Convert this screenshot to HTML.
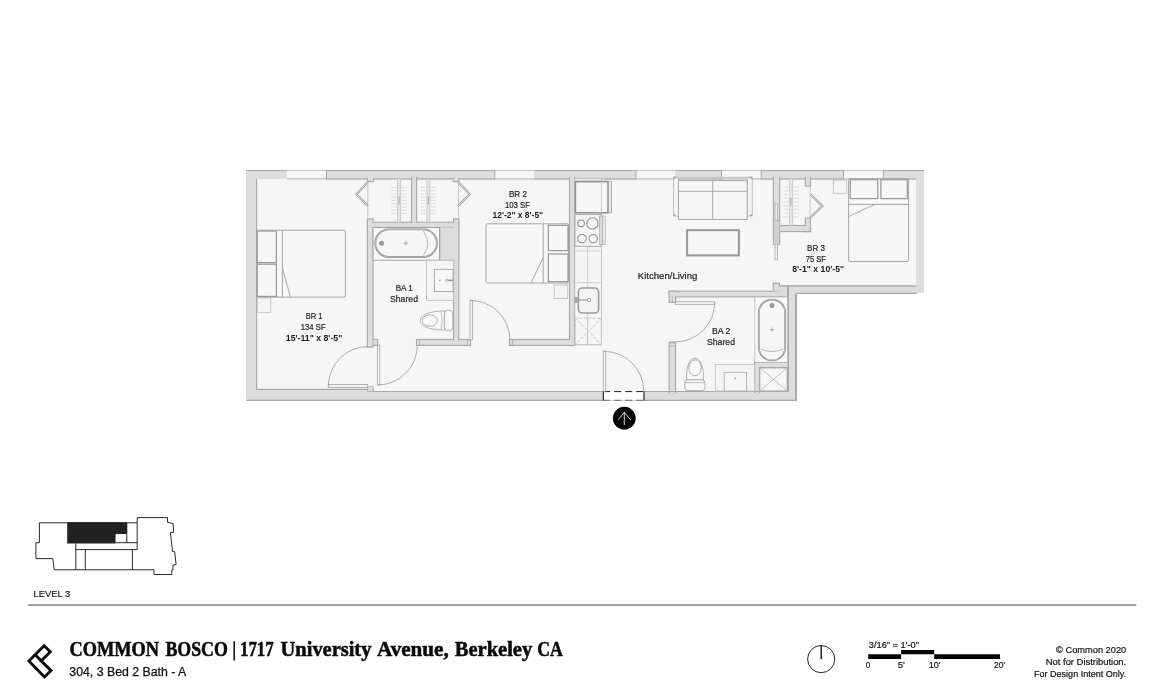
<!DOCTYPE html>
<html><head><meta charset="utf-8"><title>Floor plan</title>
<style>
html,body{margin:0;padding:0;background:#fff;}
body{width:1157px;height:695px;position:relative;overflow:hidden;font-family:"Liberation Sans",sans-serif;}
</style></head><body>
<svg width="1157" height="695" viewBox="0 0 1157 695" style="position:absolute;left:0;top:0;will-change:transform">
<path d="M246 170H924V293.3H796.7V400.5H246Z" fill="#f6f6f6"/>
<g fill="#dddddd">
<rect x="246.00" y="170.00" width="678.00" height="9.00" />
<rect x="246.00" y="170.00" width="10.50" height="230.90" />
<rect x="246.00" y="389.20" width="127.30" height="11.70" />
<rect x="250.00" y="391.40" width="546.90" height="9.50" />
<rect x="916.10" y="170.00" width="7.90" height="122.90" />
<rect x="779.00" y="285.30" width="138.00" height="8.30" />
<rect x="787.20" y="291.30" width="9.70" height="109.60" />
</g>
<g fill="none" stroke="#a9a9a9">
<path d="M246 170.5H924" stroke-width="1.1"/>
<path d="M326.4 178.9H916.3" stroke-width="1.5" stroke="#b2b2b2"/>
<path d="M256.6 178.9V389.4H373.2V391.5H603M644 391.5H788" stroke-width="1.1"/>
<path d="M246 400.4H796.9" stroke-width="1.2"/>
<path d="M796 293.4V401M788 296.8V391.5" stroke-width="1.8" stroke="#a6a6a6"/>
<path d="M779.3 286H916.4" stroke-width="1.7" stroke="#adadad"/>
<path d="M796.9 293.4H916.6" stroke-width="1.1"/>
</g>
<rect x="286.90" y="169.80" width="39.50" height="10.00" fill="#f6f6f6"/>
<path d="M286.9 170.5H326.4" stroke="#c6c6c6" stroke-width="1.1" fill="none"/><path d="M286.9 178.9H326.4" stroke="#d0d0d0" stroke-width="1.6" fill="none"/>
<rect x="494.80" y="169.80" width="39.40" height="10.00" fill="#f6f6f6"/>
<path d="M494.8 170.5H534.2" stroke="#c6c6c6" stroke-width="1.1" fill="none"/><path d="M494.8 178.9H534.2" stroke="#d0d0d0" stroke-width="1.6" fill="none"/>
<rect x="635.90" y="169.80" width="39.30" height="10.00" fill="#f6f6f6"/>
<path d="M635.9 170.5H675.2" stroke="#c6c6c6" stroke-width="1.1" fill="none"/><path d="M635.9 178.9H675.2" stroke="#d0d0d0" stroke-width="1.6" fill="none"/>
<rect x="721.50" y="169.80" width="39.70" height="10.00" fill="#f6f6f6"/>
<path d="M721.5 170.5H761.2" stroke="#c6c6c6" stroke-width="1.1" fill="none"/><path d="M721.5 178.9H761.2" stroke="#d0d0d0" stroke-width="1.6" fill="none"/>
<rect x="843.50" y="169.80" width="39.80" height="10.00" fill="#f6f6f6"/>
<path d="M843.5 170.5H883.3" stroke="#c6c6c6" stroke-width="1.1" fill="none"/><path d="M843.5 178.9H883.3" stroke="#d0d0d0" stroke-width="1.6" fill="none"/>
<path d="M326.5 170V179.6M494.8 170V179.6M635.9 170V179.6M721.5 170V179.6M761.2 170V179.6M843.5 170V179.6M883.3 170V179.6" stroke="#a9a9a9" stroke-width="1" fill="none"/>
<g fill="#a9a9a9" stroke="#a9a9a9" stroke-width="1.3">
<rect x="367.50" y="219.00" width="5.50" height="128.00" />
<rect x="367.50" y="178.50" width="6.00" height="3.00" />
<rect x="367.50" y="222.30" width="91.20" height="5.10" />
<rect x="411.60" y="177.50" width="4.90" height="45.50" />
<rect x="453.70" y="219.00" width="5.00" height="126.30" />
<rect x="453.30" y="178.50" width="5.40" height="3.00" />
<rect x="439.80" y="227.00" width="18.90" height="33.30" />
<rect x="416.60" y="339.50" width="53.80" height="5.80" />
<rect x="372.80" y="339.50" width="4.80" height="5.80" />
<rect x="509.50" y="339.50" width="65.00" height="5.80" />
<rect x="569.60" y="177.50" width="4.90" height="167.80" />
<rect x="669.20" y="291.30" width="118.80" height="5.50" />
<rect x="669.20" y="291.30" width="6.30" height="11.00" />
<rect x="773.30" y="283.20" width="6.00" height="8.80" />
<rect x="669.20" y="342.90" width="6.30" height="49.60" />
<rect x="773.50" y="177.50" width="6.10" height="67.00" />
<rect x="779.00" y="225.60" width="31.40" height="5.90" />
<rect x="805.40" y="177.50" width="5.00" height="8.50" />
<rect x="805.40" y="218.20" width="5.00" height="13.30" />
<rect x="754.70" y="362.30" width="4.70" height="30.20" />
<rect x="754.70" y="362.30" width="33.30" height="5.30" />
</g>
<g fill="#dddddd">
<rect x="368.00" y="219.50" width="4.50" height="127.00" />
<rect x="368.00" y="179.00" width="5.00" height="2.00" />
<rect x="368.00" y="222.80" width="90.20" height="4.10" />
<rect x="412.10" y="178.00" width="3.90" height="44.50" />
<rect x="454.20" y="219.50" width="4.00" height="125.30" />
<rect x="453.80" y="179.00" width="4.40" height="2.00" />
<rect x="440.30" y="227.50" width="17.90" height="32.30" />
<rect x="417.10" y="340.00" width="52.80" height="4.80" />
<rect x="373.30" y="340.00" width="3.80" height="4.80" />
<rect x="510.00" y="340.00" width="64.00" height="4.80" />
<rect x="570.10" y="178.00" width="3.90" height="166.80" />
<rect x="669.70" y="291.80" width="117.80" height="4.50" />
<rect x="669.70" y="291.80" width="5.30" height="10.00" />
<rect x="773.80" y="283.70" width="5.00" height="7.80" />
<rect x="669.70" y="343.40" width="5.30" height="48.60" />
<rect x="774.00" y="178.00" width="5.10" height="66.00" />
<rect x="779.50" y="226.10" width="30.40" height="4.90" />
<rect x="805.90" y="178.00" width="4.00" height="7.50" />
<rect x="805.90" y="218.70" width="4.00" height="12.30" />
<rect x="755.20" y="362.80" width="3.70" height="29.20" />
<rect x="755.20" y="362.80" width="32.30" height="4.30" />
</g>
<g fill="#dddddd">
<rect x="412.10" y="177.00" width="3.90" height="3.00" />
<rect x="570.10" y="177.00" width="3.90" height="3.00" />
<rect x="774.00" y="177.00" width="5.10" height="3.00" />
<rect x="805.90" y="177.00" width="4.00" height="3.00" />
<rect x="367.90" y="177.00" width="5.20" height="3.00" />
<rect x="453.80" y="177.00" width="4.40" height="3.00" />
<rect x="669.70" y="390.00" width="5.30" height="3.00" />
<rect x="755.20" y="390.00" width="3.70" height="3.00" />
<rect x="778.60" y="286.90" width="8.60" height="9.30" />
</g>
<path d="M788 285.2V297" stroke="#a6a6a6" stroke-width="1.8" fill="none"/>
<path d="M644 391.5H788" stroke="#a9a9a9" stroke-width="1.1" fill="none"/>
<rect x="603.00" y="391.30" width="41.20" height="9.20" fill="#fff"/>
<path d="M603.2 391.6H644" stroke="#1c1c1c" stroke-width="1" stroke-dasharray="7 4" fill="none"/><path d="M603.2 400.2H644" stroke="#666" stroke-width="1.1" stroke-dasharray="7 4" fill="none"/>
<path d="M603.3 391.2V400.6M644 391.2V400.6" stroke="#111" stroke-width="1.1" fill="none"/>
<rect x="328.20" y="384.60" width="39.60" height="3.00" stroke="#9a9a9a" stroke-width="0.7" fill="#f2f2f2"/>
<path d="M328.4 386A39.6 39.6 0 0 1 368 346.6" stroke="#9a9a9a" stroke-width="0.8" fill="none"/>
<rect x="367.60" y="386.30" width="5.40" height="5.00" fill="#dddddd" stroke="#a9a9a9" stroke-width="0.7"/>
<rect x="377.30" y="345.00" width="2.50" height="39.90" stroke="#9a9a9a" stroke-width="0.7" fill="#f2f2f2"/>
<path d="M378 384.9A39.6 39.6 0 0 0 417.3 345.3" stroke="#9a9a9a" stroke-width="0.8" fill="none"/>
<rect x="470.00" y="300.30" width="2.60" height="39.70" stroke="#9a9a9a" stroke-width="0.7" fill="#f2f2f2"/>
<path d="M470.4 300.4A39.6 39.6 0 0 1 509.9 340" stroke="#9a9a9a" stroke-width="0.8" fill="none"/>
<rect x="603.20" y="351.20" width="2.60" height="40.10" stroke="#9a9a9a" stroke-width="0.7" fill="#f2f2f2"/>
<path d="M603.6 351.3A40 40 0 0 1 643.8 391.3" stroke="#9a9a9a" stroke-width="0.8" fill="none"/>
<rect x="675.50" y="301.80" width="39.30" height="2.60" stroke="#9a9a9a" stroke-width="0.7" fill="#f2f2f2"/>
<path d="M714.7 302.6A39.4 39.4 0 0 1 675.3 341.9H669.4" stroke="#9a9a9a" stroke-width="0.8" fill="none"/>
<path d="M419.6 339.5V345.3M467.4 339.5V345.3M512.6 339.5V345.3M672.5 296.8V302.3M669.2 345.8H675.5" stroke="#a9a9a9" stroke-width="0.7" fill="none"/>
<path d="M367.8 182.2L356.4 194.2L368 206" stroke="#9a9a9a" stroke-width="2.1" fill="none" stroke-linejoin="miter"/>
<path d="M367.8 182.2L356.4 194.2L368 206" stroke="#f3f3f3" stroke-width="0.8" fill="none" stroke-linejoin="miter"/>
<path d="M458.4 182.2L469.8 194.2L458 206" stroke="#9a9a9a" stroke-width="2.1" fill="none" stroke-linejoin="miter"/>
<path d="M458.4 182.2L469.8 194.2L458 206" stroke="#f3f3f3" stroke-width="0.8" fill="none" stroke-linejoin="miter"/>
<path d="M810.2 194L822.4 206L810.2 217.8" stroke="#9a9a9a" stroke-width="2.1" fill="none" stroke-linejoin="miter"/>
<path d="M810.2 194L822.4 206L810.2 217.8" stroke="#f3f3f3" stroke-width="0.8" fill="none" stroke-linejoin="miter"/>
<path d="M367.8 181.5V219M458.4 181.5V219M810.1 186V218.2" stroke="#b5b5b5" stroke-width="0.7" fill="none"/>
<rect x="397.50" y="178.80" width="3.10" height="43.50" fill="#e6e6e6" stroke="#bdbdbd" stroke-width="0.7"/>
<path d="M391 187.5H406.8M391 190.7H406.8M391 194.0H406.8M391 197.2H406.8M391 200.5H406.8M391 203.7H406.8M391 206.9H406.8M391 210.2H406.8M391 213.4H406.8" stroke="#dcdcdc" stroke-width="0.9" fill="none"/>
<path d="M399.05 196.46V204.46" stroke="#b0b0b0" stroke-width="1.1" fill="none"/>
<rect x="427.00" y="178.80" width="2.80" height="43.50" fill="#e6e6e6" stroke="#bdbdbd" stroke-width="0.7"/>
<path d="M420.2 187.5H436.3M420.2 190.7H436.3M420.2 194.0H436.3M420.2 197.2H436.3M420.2 200.5H436.3M420.2 203.7H436.3M420.2 206.9H436.3M420.2 210.2H436.3M420.2 213.4H436.3" stroke="#dcdcdc" stroke-width="0.9" fill="none"/>
<path d="M428.4 196.46V204.46" stroke="#b0b0b0" stroke-width="1.1" fill="none"/>
<rect x="789.30" y="178.80" width="3.10" height="46.80" fill="#e6e6e6" stroke="#bdbdbd" stroke-width="0.7"/>
<path d="M783 187.2H799M783 190.9H799M783 194.6H799M783 198.3H799M783 202.0H799M783 205.7H799M783 209.4H799M783 213.1H799M783 216.8H799" stroke="#dcdcdc" stroke-width="0.9" fill="none"/>
<path d="M790.8499999999999 198.0V206.0" stroke="#b0b0b0" stroke-width="1.1" fill="none"/>
<rect x="775.00" y="204.00" width="2.60" height="55.80" fill="#ececec" stroke="#a8a8a8" stroke-width="0.7"/>
<rect x="773.50" y="220.50" width="6.10" height="24.00" fill="#d0d0d0" stroke="#a9a9a9" stroke-width="0.6"/>
<rect x="257" y="230.3" width="88.4" height="66.8" rx="1.5" stroke="#9c9c9c" stroke-width="0.9" fill="#f7f7f7"/>
<rect x="257.20" y="231.00" width="19.20" height="31.60" stroke="#9a9a9a" stroke-width="1.25" fill="#f7f7f7"/>
<rect x="257.20" y="264.20" width="19.20" height="32.20" stroke="#9a9a9a" stroke-width="1.25" fill="#f7f7f7"/>
<path d="M282.4 230.3V297.1M282.4 268L290.5 297" stroke="#9c9c9c" stroke-width="0.9" fill="none"/>
<rect x="257.30" y="298.00" width="13.50" height="14.30" stroke="#bdbdbd" stroke-width="0.8" fill="#f4f4f4"/>
<rect x="486" y="223.8" width="82.5" height="59.2" rx="1.5" stroke="#9c9c9c" stroke-width="0.9" fill="#f7f7f7"/>
<rect x="548.40" y="225.30" width="19.60" height="25.30" stroke="#9a9a9a" stroke-width="1.25" fill="#f7f7f7"/>
<rect x="548.40" y="254.00" width="19.60" height="27.70" stroke="#9a9a9a" stroke-width="1.25" fill="#f7f7f7"/>
<path d="M543.2 223.8V283M543.2 257.5L531 283" stroke="#9c9c9c" stroke-width="0.9" fill="none"/>
<rect x="554.20" y="285.00" width="13.50" height="13.50" stroke="#bdbdbd" stroke-width="0.8" fill="#f4f4f4"/>
<rect x="848.6" y="178.8" width="60" height="82.7" rx="1.5" stroke="#9c9c9c" stroke-width="0.9" fill="#f7f7f7"/>
<rect x="850.30" y="179.70" width="27.50" height="18.90" stroke="#9a9a9a" stroke-width="1.25" fill="#f7f7f7"/>
<rect x="880.90" y="179.70" width="26.40" height="18.90" stroke="#9a9a9a" stroke-width="1.25" fill="#f7f7f7"/>
<path d="M848.6 204.4H908.6M848.6 216.5L874.8 204.4" stroke="#9c9c9c" stroke-width="0.9" fill="none"/>
<rect x="833.30" y="180.20" width="13.50" height="13.30" stroke="#bdbdbd" stroke-width="0.8" fill="#f4f4f4"/>
<rect x="373.00" y="227.60" width="66.60" height="32.60" stroke="#9c9c9c" stroke-width="0.9" fill="#f8f8f8"/>
<rect x="375.3" y="229.4" width="61.6" height="27.6" rx="13.8" stroke="#8c8c8c" stroke-width="1.9" fill="#f7f7f7"/>
<rect x="375.3" y="229.4" width="61.6" height="27.6" rx="13.8" stroke="#e4e4e4" stroke-width="0.55" fill="none"/>
<path d="M423.4 231.2Q432.4 243.3 423.4 255.3" stroke="#a5a5a5" stroke-width="0.8" fill="none"/>
<circle cx="381.6" cy="243.3" r="2.5" fill="#999"/>
<path d="M403.5 243.3H408.1M405.8 241V245.6" stroke="#9c9c9c" stroke-width="0.7"/>
<rect x="426.50" y="260.40" width="27.10" height="40.00" stroke="#c2c2c2" stroke-width="0.9" fill="#f4f4f4"/>
<rect x="434.40" y="269.30" width="18.60" height="22.30" stroke="#a5a5a5" stroke-width="0.9" fill="#f6f6f6"/>
<circle cx="439.9" cy="280.3" r="0.9" fill="#999"/>
<path d="M446 280.3H453" stroke="#999" stroke-width="1.6"/><circle cx="446.6" cy="280.3" r="1.1" fill="#f4f4f4" stroke="#999" stroke-width="0.6"/>
<path d="M444.5 311C434 310.8 420.2 313.5 420.2 320.5C420.2 327.5 434 330.2 444.5 330Z" stroke="#9c9c9c" stroke-width="0.8" fill="#f8f8f8"/>
<ellipse cx="429.8" cy="320.5" rx="7.6" ry="5.7" stroke="#9c9c9c" stroke-width="0.8" fill="#f8f8f8"/>
<rect x="444.3" y="310.3" width="8.6" height="20.5" rx="3.5" stroke="#9c9c9c" stroke-width="0.8" fill="#f8f8f8"/>
<path d="M441 311.3Q443.5 320.5 441 329.7" stroke="#b0b0b0" stroke-width="0.7" fill="none"/>
<rect x="574.80" y="178.80" width="26.60" height="166.00" stroke="#b8b8b8" stroke-width="0.8" fill="#f5f5f5"/>
<path d="M587.7 178.8V344.8M574.8 282.7H601.4M574.8 251H601.4" stroke="#c6c6c6" stroke-width="0.8" fill="none"/>
<rect x="575.00" y="179.60" width="26.40" height="1.80" fill="#e4e4e4"/>
<rect x="575.40" y="181.60" width="32.60" height="31.20" stroke="#939393" stroke-width="1.6" fill="#f6f6f6"/>
<rect x="608.60" y="181.60" width="3.00" height="31.20" stroke="#a0a0a0" stroke-width="0.8" fill="#e9e9e9"/>
<path d="M601.4 181.6V212.8" stroke="#c0c0c0" stroke-width="0.8"/>
<rect x="575.00" y="214.60" width="26.40" height="31.70" stroke="#a3a3a3" stroke-width="0.9" fill="#f6f6f6"/>
<rect x="599.60" y="216.00" width="2.80" height="28.60" stroke="#a8a8a8" stroke-width="0.7" fill="#dcdcdc"/>
<rect x="602.80" y="216.00" width="2.40" height="28.60" stroke="#a8a8a8" stroke-width="0.7" fill="#f1f1f1"/>
<circle cx="581.1" cy="223.4" r="3.3" stroke="#8a8a8a" stroke-width="1.05" fill="#f9f9f9"/>
<circle cx="592.4" cy="223.4" r="5.6" stroke="#8a8a8a" stroke-width="1.05" fill="#f9f9f9"/>
<circle cx="582" cy="238.6" r="4.2" stroke="#8a8a8a" stroke-width="1.05" fill="#f9f9f9"/>
<circle cx="593.2" cy="238.6" r="4.2" stroke="#8a8a8a" stroke-width="1.05" fill="#f9f9f9"/>
<rect x="578.4" y="288" width="20.2" height="25" rx="4" stroke="#9a9a9a" stroke-width="1.6" fill="#f4f4f4"/>
<path d="M576 300H589" stroke="#a2a2a2" stroke-width="1.3"/><path d="M576.6 297.3V302.7" stroke="#a2a2a2" stroke-width="3.4"/>
<circle cx="589" cy="300" r="1.7" stroke="#8f8f8f" stroke-width="0.8" fill="#f4f4f4"/>
<path d="M575.2 318.1H601.4V344.8H575.2ZM575.2 318.1L601.4 344.8M601.4 318.1L575.2 344.8" stroke="#bdbdbd" stroke-width="0.8" stroke-dasharray="3 1.4" fill="none"/>
<path d="M587.7 318.1V344.8" stroke="#c6c6c6" stroke-width="0.8"/>
<rect x="673.40" y="177.00" width="5.00" height="39.00" stroke="#b3b3b3" stroke-width="0.8" fill="#f4f4f4"/>
<rect x="747.20" y="177.00" width="5.00" height="39.00" stroke="#b3b3b3" stroke-width="0.8" fill="#f4f4f4"/>
<rect x="678.40" y="180.60" width="68.80" height="38.80" stroke="#a3a3a3" stroke-width="0.9" fill="#f6f6f6"/>
<path d="M678.4 191.3H747.2M712.7 180.6V219.4" stroke="#a3a3a3" stroke-width="0.9"/>
<path d="M673.4 177.6H752.2" stroke="#c9c9c9" stroke-width="1.6"/>
<rect x="673.40" y="214.30" width="1.80" height="1.80" fill="#a0a0a0"/>
<rect x="750.40" y="214.30" width="1.80" height="1.80" fill="#a0a0a0"/>
<rect x="673.40" y="176.90" width="1.80" height="1.80" fill="#a0a0a0"/>
<rect x="750.40" y="176.90" width="1.80" height="1.80" fill="#a0a0a0"/>
<rect x="687.10" y="230.20" width="51.80" height="25.20" stroke="#979797" stroke-width="2" fill="#f6f6f6"/>
<rect x="754.80" y="297.00" width="32.60" height="65.30" stroke="#b8b8b8" stroke-width="0.8" fill="#f8f8f8"/>
<rect x="758.8" y="299.6" width="26.4" height="60.8" rx="13.2" stroke="#8c8c8c" stroke-width="1.8" fill="#f7f7f7"/>
<rect x="758.8" y="299.6" width="26.4" height="60.8" rx="13.2" stroke="#e4e4e4" stroke-width="0.55" fill="none"/>
<path d="M760.5 349Q772 354 783.5 349" stroke="#a5a5a5" stroke-width="0.8" fill="none"/>
<circle cx="772" cy="305.4" r="2.5" fill="#999"/>
<path d="M769.7 329.7H774.3M772 327.4V332" stroke="#9c9c9c" stroke-width="0.7"/>
<rect x="759.90" y="368.00" width="27.10" height="22.90" stroke="#a3a3a3" stroke-width="0.8" fill="#f6f6f6"/>
<path d="M759.9 368L787 390.9M787 368L759.9 390.9" stroke="#a9a9a9" stroke-width="0.7"/>
<rect x="715.30" y="364.60" width="39.30" height="26.40" stroke="#c2c2c2" stroke-width="0.9" fill="#f4f4f4"/>
<rect x="724.20" y="372.40" width="22.40" height="18.60" stroke="#b0b0b0" stroke-width="0.9" fill="#f6f6f6"/>
<circle cx="735" cy="378.3" r="0.9" fill="#999"/>
<path d="M686.6 380C686 371 688 358.2 695 358.2C702 358.2 704 371 703.4 380Z" stroke="#9c9c9c" stroke-width="0.8" fill="#f8f8f8"/>
<ellipse cx="695" cy="367.8" rx="6.2" ry="8" stroke="#9c9c9c" stroke-width="0.8" fill="#f8f8f8"/>
<rect x="684.8" y="379.8" width="20.2" height="10.8" rx="3.2" stroke="#9c9c9c" stroke-width="0.8" fill="#f8f8f8"/>
<path d="M685 382.7H705" stroke="#a8a8a8" stroke-width="0.7" fill="none"/>
<circle cx="624.3" cy="418.2" r="11.4" fill="#050505"/>
<path d="M624.3 425V412.4M618.1 419.8L624.3 412.4L630.6 419.8" stroke="#fff" stroke-width="0.8" fill="none"/>
<g font-family="Liberation Sans, sans-serif">
<text x="305.7" y="319.1" textLength="16.8" lengthAdjust="spacingAndGlyphs" font-size="9.7" fill="#262626" stroke="#262626" stroke-width="0.22">BR 1</text>
<text x="300.8" y="329.9" textLength="24.8" lengthAdjust="spacingAndGlyphs" font-size="9.7" fill="#262626" stroke="#262626" stroke-width="0.22">134 SF</text>
<text x="285.8" y="341" textLength="56.5" lengthAdjust="spacingAndGlyphs" font-size="9.7" font-weight="700" fill="#1c1c1c">15'-11" x 8'-5"</text>
<text x="508.9" y="197" textLength="18.2" lengthAdjust="spacingAndGlyphs" font-size="9.7" fill="#262626" stroke="#262626" stroke-width="0.22">BR 2</text>
<text x="504.9" y="207.9" textLength="25.1" lengthAdjust="spacingAndGlyphs" font-size="9.7" fill="#262626" stroke="#262626" stroke-width="0.22">103 SF</text>
<text x="492.5" y="218" textLength="50.6" lengthAdjust="spacingAndGlyphs" font-size="9.7" font-weight="700" fill="#1c1c1c">12'-2" x 8'-5"</text>
<text x="807.1" y="250.9" textLength="17.9" lengthAdjust="spacingAndGlyphs" font-size="9.7" fill="#262626" stroke="#262626" stroke-width="0.22">BR 3</text>
<text x="805.7" y="261.8" textLength="20.2" lengthAdjust="spacingAndGlyphs" font-size="9.7" fill="#262626" stroke="#262626" stroke-width="0.22">75 SF</text>
<text x="792.2" y="272" textLength="52" lengthAdjust="spacingAndGlyphs" font-size="9.7" font-weight="700" fill="#1c1c1c">8'-1" x 10'-5"</text>
<text x="395.7" y="290.8" textLength="17.1" lengthAdjust="spacingAndGlyphs" font-size="9.7" fill="#262626" stroke="#262626" stroke-width="0.22">BA 1</text>
<text x="389.9" y="301.7" textLength="28.1" lengthAdjust="spacingAndGlyphs" font-size="9.7" fill="#262626" stroke="#262626" stroke-width="0.22">Shared</text>
<text x="712.1" y="333.9" textLength="18.2" lengthAdjust="spacingAndGlyphs" font-size="9.7" fill="#262626" stroke="#262626" stroke-width="0.22">BA 2</text>
<text x="706.9" y="344.6" textLength="28.2" lengthAdjust="spacingAndGlyphs" font-size="9.7" fill="#262626" stroke="#262626" stroke-width="0.22">Shared</text>
<text x="637.8" y="278.7" textLength="59.6" lengthAdjust="spacingAndGlyphs" font-size="9.7" fill="#262626" stroke="#262626" stroke-width="0.22">Kitchen/Living</text>
</g>
<path d="M39.4 522.8H137.2V517.6H167.5V522.3L173 523.5L173.8 532.3L170.4 532.7L172.5 551.3L174.7 551.7L176.1 564.6L173 565V569.8L171.8 570.2V574.5H154V569.8H54.2L52.8 558.6H35.9V542.7H39.4Z" stroke="#111" stroke-width="0.9" fill="#fff"/>
<path d="M67.2 522.3H126.8V533.9H115.6V543.4H67.2Z" fill="#222"/>
<path d="M126.8 522.8V542.7M137.2 522.8V549.6M115.6 542.7H137.2M75.8 549.6H137.2M75.8 543.4V569.8M85.3 549.6V569.8M132.4 549.6V569.8" stroke="#111" stroke-width="0.9" fill="none"/>
<text x="33.5" y="596.7" textLength="36.6" lengthAdjust="spacingAndGlyphs" font-size="9.3" fill="#111" stroke="#111" stroke-width="0.15" font-family="Liberation Sans, sans-serif">LEVEL 3</text>
<path d="M27.8 604.9H1136.3" stroke="#838383" stroke-width="1.5"/>
<path d="M28.9 661L44.1 645.8L50.3 651.7L41.1 660.9L51 670.4L44.5 676.9ZM35.2 654.7L42 661.6" stroke="#0a0a0a" stroke-width="2.85" fill="none" stroke-linejoin="miter"/>
<g font-size="20.4" font-weight="700" fill="#0a0a0a" stroke="#0a0a0a" stroke-width="0.55" font-family="Liberation Serif, serif">
<text x="69.6" y="655.9" textLength="89.5" lengthAdjust="spacingAndGlyphs">COMMON</text>
<text x="165.4" y="655.9" textLength="62.5" lengthAdjust="spacingAndGlyphs">BOSCO</text>
<text x="240" y="655.9" textLength="33.7" lengthAdjust="spacingAndGlyphs">1717</text>
<text x="280.6" y="655.9" textLength="90.8" lengthAdjust="spacingAndGlyphs">University</text>
<text x="377" y="655.9" textLength="71.7" lengthAdjust="spacingAndGlyphs">Avenue,</text>
<text x="454.8" y="655.9" textLength="77.4" lengthAdjust="spacingAndGlyphs">Berkeley</text>
<text x="537.2" y="655.9" textLength="25.6" lengthAdjust="spacingAndGlyphs">CA</text>
</g>
<path d="M234.2 641.2V660.4" stroke="#0a0a0a" stroke-width="1.5"/>
<text x="69.3" y="676.1" textLength="117" lengthAdjust="spacingAndGlyphs" font-size="12.2" fill="#111" stroke="#111" stroke-width="0.25" font-family="Liberation Sans, sans-serif">304, 3 Bed 2 Bath - A</text>
<circle cx="821.2" cy="659.1" r="13.6" stroke="#111" stroke-width="0.9" fill="none"/><path d="M821.2 659.1V645.2" stroke="#111" stroke-width="1.4"/>
<path d="M868.2 654.3H901.1V650H934.2V654.3H1000V658.9H934.2V654.3H901.1V658.9H868.2Z" fill="#050505"/>
<g font-family="Liberation Sans, sans-serif" font-size="9.3" fill="#111" stroke="#111" stroke-width="0.2">
<text x="868.8" y="648.1" textLength="50.2" lengthAdjust="spacingAndGlyphs">3/16" = 1'-0"</text>
<text x="865.7" y="668.1" textLength="4.5" lengthAdjust="spacingAndGlyphs">0</text>
<text x="897.7" y="668.1" textLength="7.2" lengthAdjust="spacingAndGlyphs">5'</text>
<text x="928.7" y="668.1" textLength="11.8" lengthAdjust="spacingAndGlyphs">10'</text>
<text x="994" y="668.1" textLength="11" lengthAdjust="spacingAndGlyphs">20'</text>
<text x="1056.1" y="652.8" textLength="70.1" lengthAdjust="spacingAndGlyphs">© Common 2020</text>
<text x="1045.8" y="664.6" textLength="80.4" lengthAdjust="spacingAndGlyphs">Not for Distribution.</text>
<text x="1034" y="676.6" textLength="92.2" lengthAdjust="spacingAndGlyphs">For Design Intent Only.</text>
</g>
</svg>
</body></html>
